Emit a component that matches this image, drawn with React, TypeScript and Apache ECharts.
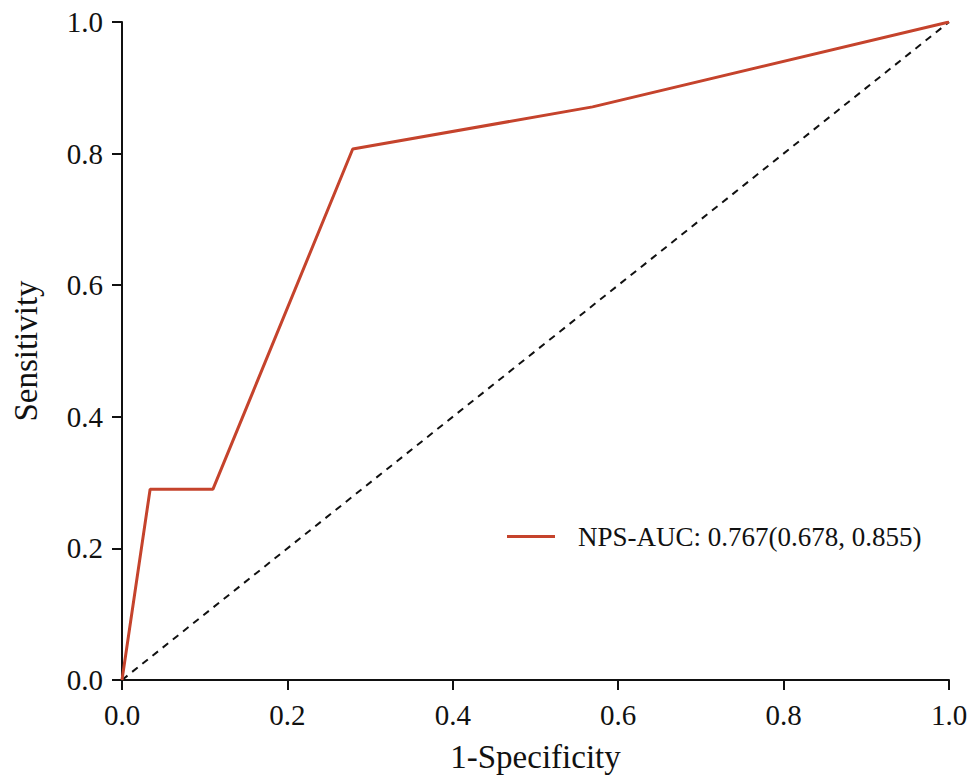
import React, { useEffect, useRef } from "react";
import * as echarts from "echarts";

const rocX = [0, 0.034, 0.11, 0.279, 0.569, 1.0];
const rocY = [0, 0.29, 0.29, 0.807, 0.871, 1.0];
const refX = [0, 1];
const refY = [0, 1];
const seriesName = "NPS-AUC: 0.767(0.678, 0.855)";

const FONT = "'Liberation Serif', 'Times New Roman', serif";

export default function App() {
  const ref = useRef<HTMLDivElement>(null);
  useEffect(() => {
    if (!ref.current) return;
    const chart = echarts.init(ref.current, null, { renderer: "svg" });
    chart.setOption({
      animation: false,
      backgroundColor: "#ffffff",
      grid: { left: 122, right: 22, top: 22, bottom: 96, containLabel: false },
      legend: {
        data: [seriesName],
        left: 502,
        top: 518,
        icon: "rect",
        itemWidth: 48,
        itemHeight: 3,
        textStyle: { fontFamily: FONT, fontSize: 27, color: "#111", padding: [0, 0, 0, 18] },
      },
      xAxis: {
        type: "value",
        min: 0,
        max: 1,
        interval: 0.2,
        name: "1-Specificity",
        nameLocation: "middle",
        nameGap: 60,
        nameTextStyle: { fontFamily: FONT, fontSize: 33, color: "#111" },
        axisLine: { lineStyle: { color: "#111", width: 2 } },
        axisTick: { length: 10, lineStyle: { color: "#111", width: 2 } },
        axisLabel: { fontFamily: FONT, fontSize: 29, color: "#111", margin: 20, formatter: (v: number) => v.toFixed(1) },
        splitLine: { show: false },
      },
      yAxis: {
        type: "value",
        min: 0,
        max: 1,
        interval: 0.2,
        name: "Sensitivity",
        nameLocation: "middle",
        nameGap: 80,
        nameTextStyle: { fontFamily: FONT, fontSize: 33, color: "#111" },
        axisLine: { show: true, lineStyle: { color: "#111", width: 2 } },
        axisTick: { show: true, length: 10, lineStyle: { color: "#111", width: 2 } },
        axisLabel: { fontFamily: FONT, fontSize: 29, color: "#111", margin: 19, formatter: (v: number) => v.toFixed(1) },
        splitLine: { show: false },
      },
      series: [
        {
          name: seriesName,
          type: "line",
          data: rocX.map((x, i) => [x, rocY[i]]),
          showSymbol: false,
          symbol: "none",
          itemStyle: { color: "#c5432c" },
          lineStyle: { color: "#c5432c", width: 3 },
          z: 3,
        },
        {
          name: "ref",
          type: "line",
          data: refX.map((x, i) => [x, refY[i]]),
          showSymbol: false,
          symbol: "none",
          lineStyle: { color: "#111", width: 2, type: [7, 6] },
          z: 2,
        },
      ],
    });
    return () => chart.dispose();
  }, []);
  return (
    <div
      ref={ref}
      style={{ position: "fixed", left: 0, top: 0, width: 971, height: 778, background: "#fff" }}
    />
  );
}
